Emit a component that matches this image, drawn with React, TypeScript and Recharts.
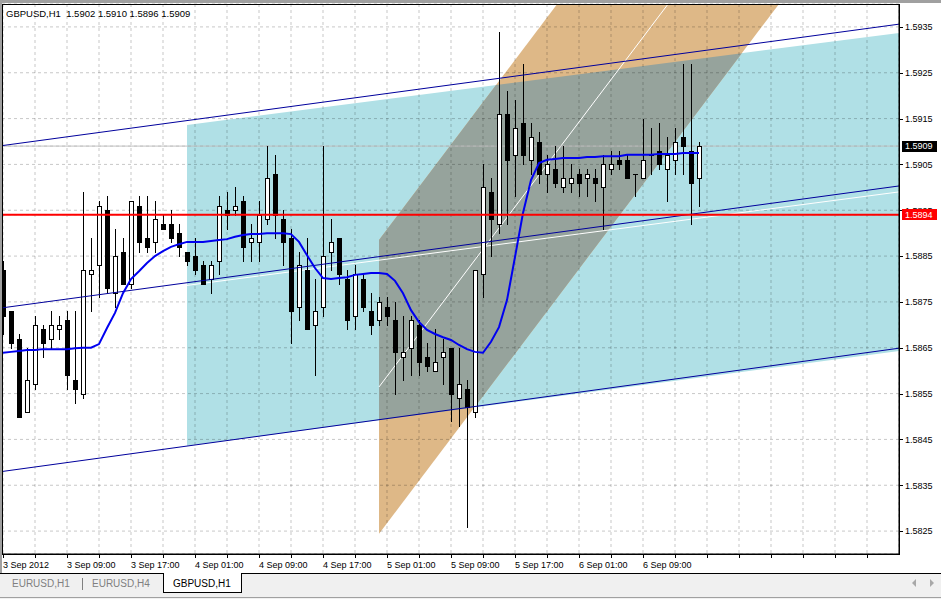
import React from 'react';
import { ComposedChart, Area, Bar, Line, XAxis, YAxis, CartesianGrid, ReferenceLine } from 'recharts';

const symbol = 'GBPUSD,H1';
const FONT = "'Liberation Sans', Arial, sans-serif";

// hourly bars, 3 Sep 2012 01:00 .. 6 Sep 2012 16:00
const opens = [
  1.5882, 1.5873, 1.5867, 1.5851, 1.5857, 1.5869, 1.5867, 1.5869, 1.5871, 1.5858,
  1.5855, 1.5881, 1.5883, 1.5895, 1.5877, 1.5886, 1.5879, 1.5896, 1.5889, 1.5888,
  1.5892, 1.5892, 1.5890, 1.5886, 1.5885, 1.5883, 1.5880, 1.5884, 1.5895, 1.5895,
  1.5897, 1.5888, 1.5888, 1.5893, 1.5903, 1.5893, 1.5889, 1.5874, 1.5882, 1.5870,
  1.5874, 1.5886, 1.5889, 1.5880, 1.5872, 1.5880, 1.5873, 1.5871, 1.5874, 1.5871,
  1.5863, 1.5865, 1.5870, 1.5863, 1.5860, 1.5863, 1.5865, 1.5854, 1.5856, 1.5851,
  1.5881, 1.5899, 1.5892, 1.5916, 1.5907, 1.5914, 1.5906, 1.5910, 1.5903, 1.5904,
  1.5900, 1.5901, 1.5903, 1.5902, 1.5902, 1.5900, 1.5904, 1.5906, 1.5906, 1.5903,
  1.5902, 1.5907, 1.5908, 1.5904, 1.5906, 1.5911, 1.5908, 1.5902,
];
const highs = [
  1.5884, 1.5873, 1.5868, 1.5865, 1.5872, 1.5870, 1.5873, 1.5872, 1.5873, 1.5873,
  1.5899, 1.5889, 1.5897, 1.5898, 1.5891, 1.5889, 1.5897, 1.5898, 1.5898, 1.5897,
  1.5894, 1.5895, 1.5892, 1.5886, 1.5889, 1.5884, 1.5884, 1.5898, 1.5899, 1.5900,
  1.5898, 1.5892, 1.5897, 1.5909, 1.5907, 1.5895, 1.5891, 1.5886, 1.5889, 1.5880,
  1.5909, 1.5893, 1.5889, 1.5882, 1.5883, 1.5881, 1.5877, 1.5876, 1.5876, 1.5875,
  1.5872, 1.5872, 1.5871, 1.5866, 1.5869, 1.5867, 1.5865, 1.5865, 1.5858, 1.5882,
  1.5905, 1.5902, 1.5934, 1.5921, 1.5919, 1.5927, 1.5914, 1.5912, 1.5907, 1.5909,
  1.5909, 1.5905, 1.5904, 1.5904, 1.5904, 1.5907, 1.5908, 1.5908, 1.5907, 1.5903,
  1.5915, 1.5913, 1.5914, 1.5911, 1.5913, 1.5927, 1.5927, 1.5910,
];
const lows = [
  1.5868, 1.5865, 1.5850, 1.5851, 1.5856, 1.5863, 1.5865, 1.5867, 1.5856, 1.5853,
  1.5854, 1.5873, 1.5876, 1.5877, 1.5874, 1.5879, 1.5878, 1.5886, 1.5886, 1.5886,
  1.5891, 1.5888, 1.5885, 1.5883, 1.5881, 1.5879, 1.5877, 1.5881, 1.5891, 1.5894,
  1.5884, 1.5884, 1.5884, 1.5892, 1.5889, 1.5883, 1.5866, 1.5871, 1.5869, 1.5859,
  1.5872, 1.5882, 1.5879, 1.5869, 1.5869, 1.5873, 1.5868, 1.5870, 1.5870, 1.5855,
  1.5858, 1.5859, 1.5859, 1.5860, 1.5860, 1.5857, 1.5849, 1.5848, 1.5826, 1.5850,
  1.5876, 1.5885, 1.5890, 1.5892, 1.5898, 1.5905, 1.5903, 1.5901, 1.5899, 1.5900,
  1.5899, 1.5899, 1.5898, 1.5898, 1.5897, 1.5891, 1.5903, 1.5904, 1.5902, 1.5898,
  1.5902, 1.5903, 1.5904, 1.5897, 1.5903, 1.5903, 1.5892, 1.5896,
];
const closes = [
  1.5872, 1.5866, 1.5850, 1.5858, 1.5870, 1.5866, 1.5870, 1.5870, 1.5859, 1.5856,
  1.5882, 1.5882, 1.5896, 1.5878, 1.5885, 1.5879, 1.5897, 1.5888, 1.5887, 1.5893,
  1.5891, 1.5889, 1.5887, 1.5884, 1.5882, 1.5879, 1.5883, 1.5896, 1.5894, 1.5896,
  1.5887, 1.5889, 1.5894, 1.5902, 1.5894, 1.5888, 1.5873, 1.5883, 1.5869, 1.5873,
  1.5885, 1.5888, 1.5881, 1.5871, 1.5881, 1.5874, 1.5870, 1.5875, 1.5872, 1.5864,
  1.5864, 1.5871, 1.5862, 1.5861, 1.5862, 1.5864, 1.5855, 1.5857, 1.5852, 1.5882,
  1.5900, 1.5893, 1.5916, 1.5906, 1.5913, 1.5907, 1.5911, 1.5903, 1.5905, 1.5901,
  1.5902, 1.5902, 1.5901, 1.5903, 1.5901, 1.5905, 1.5905, 1.5905, 1.5902, 1.5903,
  1.5906, 1.5907, 1.5905, 1.5907, 1.5910, 1.5909, 1.5901, 1.5909,
];
const maValues = [
  1.58639, 1.58641, 1.58643, 1.58645, 1.58645, 1.58647, 1.58647, 1.58647, 1.58647, 1.58649,
  1.5865, 1.5865, 1.58658, 1.58693, 1.58726, 1.58769, 1.588, 1.58817, 1.58835, 1.5885,
  1.58861, 1.5887, 1.58876, 1.58881, 1.58881, 1.58881, 1.58883, 1.58885, 1.58887, 1.58892,
  1.58896, 1.58898, 1.58898, 1.589, 1.589, 1.589, 1.58898, 1.58881, 1.58852, 1.58824,
  1.58802, 1.588, 1.58802, 1.58804, 1.58809, 1.58811, 1.58813, 1.58813, 1.58811, 1.58796,
  1.58769, 1.58732, 1.58706, 1.58689, 1.5868, 1.58673, 1.58667, 1.58656, 1.58647, 1.58641,
  1.58639, 1.58663, 1.58695, 1.58754, 1.58848, 1.58944, 1.59016, 1.59053, 1.5906, 1.59062,
  1.59064, 1.59064, 1.59064, 1.59066, 1.59066, 1.59068, 1.59068, 1.59068, 1.59071, 1.59071,
  1.59071, 1.59071, 1.59073, 1.59073, 1.59073, 1.59075, 1.59075, 1.59075,
];

const xTickBars = [0, 4, 8, 12, 16, 20, 24, 28, 32, 36, 40, 44, 48, 52, 56, 60, 64, 68, 72, 76, 80, 84, 88, 92, 96, 100, 104, 108];
const xLabelBars = [0, 8, 16, 24, 32, 40, 48, 56, 64, 72, 80];
const xLabelText = ['3 Sep 2012', '3 Sep 09:00', '3 Sep 17:00', '4 Sep 01:00', '4 Sep 09:00', '4 Sep 17:00', '5 Sep 01:00', '5 Sep 09:00', '5 Sep 17:00', '6 Sep 01:00', '6 Sep 09:00'];
const yTicks = [1.5825, 1.5835, 1.5845, 1.5855, 1.5865, 1.5875, 1.5885, 1.5895, 1.5905, 1.5915, 1.5925, 1.5935];
const bidPrice = 1.5909;
const alertLevel = 1.5894;
const tagPrices = [alertLevel, bidPrice];
const tagColors = ['#FF0000', '#000000'];
const tabs = ['EURUSD,H1', 'EURUSD,H4', 'GBPUSD,H1'];
const activeTab = 2;

// drawn objects (bar index, price)
const stdDevStart = { k: -0.125, upper: 1.59091, middle: 1.58737, lower: 1.5838 };
const stdDevEnd = { k: 112, upper: 1.59356, middle: 1.59003, lower: 1.58649 };
const regStart = { k: 23, top: 1.59136, mid: 1.58786, bottom: 1.58436 };
const regEnd = { k: 112, top: 1.59337, mid: 1.5899, bottom: 1.58643 };
const pitchStart = { k: 47, top: 1.58885, mid: 1.585645, bottom: 1.58244 };
const pitchEnd = { k: 97, top: 1.60041, mid: 1.597205, bottom: 1.594 };

const rows = opens.map((o, i) => ({ k: i, o, h: highs[i], l: lows[i], c: closes[i], ma: maValues[i] }));

const seg = (a: any, b: any, key: string) => [{ k: a.k, v: a[key] }, { k: b.k, v: b[key] }];
const band = (a: any, b: any, lo: string, hi: string) => [{ k: a.k, v: [a[lo], a[hi]] }, { k: b.k, v: [b[lo], b[hi]] }];

type Pt = { k: number; v: number };
const lineThrough = (a: Pt, b: Pt) => (k: number) => a.v + ((b.v - a.v) * (k - a.k)) / (b.k - a.k);
const regTopAt = lineThrough({ k: regStart.k, v: regStart.top }, { k: regEnd.k, v: regEnd.top });
const regBotAt = lineThrough({ k: regStart.k, v: regStart.bottom }, { k: regEnd.k, v: regEnd.bottom });
const pitchTopAt = lineThrough({ k: pitchStart.k, v: pitchStart.top }, { k: pitchEnd.k, v: pitchEnd.top });
const pitchBotAt = lineThrough({ k: pitchStart.k, v: pitchStart.bottom }, { k: pitchEnd.k, v: pitchEnd.bottom });
const crossing = (f: (k: number) => number, g: (k: number) => number) => {
  const d0 = f(0) - g(0);
  const d1 = f(1) - g(1);
  return Math.abs(d0 - d1) < 1e-12 ? NaN : d0 / (d0 - d1);
};
const lowerEdges = [regBotAt, pitchBotAt];
const upperEdges = [regTopAt, pitchTopAt];
const allEdges = [...lowerEdges, ...upperEdges];
const kFrom = Math.max(regStart.k, pitchStart.k);
const kTo = Math.min(regEnd.k, pitchEnd.k);
const overlapKs: number[] = [kFrom, kTo];
allEdges.forEach((f, i) =>
  allEdges.forEach((g, j) => {
    if (j > i) {
      const kk = crossing(f, g);
      if (isFinite(kk) && kk > kFrom && kk < kTo) overlapKs.push(kk);
    }
  })
);
overlapKs.sort((a, b) => a - b);
const overlapFill = overlapKs
  .map((k) => ({ k, lo: Math.max(...lowerEdges.map((f) => f(k))), hi: Math.min(...upperEdges.map((f) => f(k))) }))
  .filter((p) => p.hi - p.lo > -1e-9)
  .map((p) => ({ k: p.k, v: [p.lo, Math.max(p.lo, p.hi)] }));

const Candle = (props: any) => {
  const { x, y, width, height, payload } = props;
  if (!payload || typeof x !== 'number' || !(height > 0)) return null;
  const { o, h, l, c } = payload;
  const span = h - l;
  const py = (v: number) => y + ((h - v) / span) * height;
  const cx = Math.floor(x + width / 2 + 0.5 + 1e-6);
  const yH = Math.round(py(h));
  const yL = Math.round(py(l));
  const yO = Math.round(py(o));
  const yC = Math.round(py(c));
  const top = Math.min(yO, yC);
  const bot = Math.max(yO, yC);
  const bull = c > o;
  return (
    <g>
      <rect x={cx} y={yH} width={1} height={Math.max(1, yL - yH + 1)} fill="#000" />
      <rect x={cx - 2} y={top} width={5} height={bot - top + 1} fill="#000" />
      {bull && bot - top >= 2 && <rect x={cx - 1} y={top + 1} width={3} height={bot - top - 1} fill="#fff" />}
    </g>
  );
};

const XTick = (props: any) => {
  const { x, y, payload } = props;
  const idx = xLabelBars.indexOf(payload.value);
  const px = Math.round(x) + 0.5;
  return (
    <g>
      <line x1={px} x2={px} y1={y + 1} y2={y + 4} stroke="#000" />
      {idx >= 0 && (
        <text x={Math.round(x)} y={y + 14} fontSize={9} fontFamily={FONT} fill="#000" textAnchor="start">
          {xLabelText[idx]}
        </text>
      )}
    </g>
  );
};

// price-axis tick: ordinary ticks get a mark and a label; the current-price
// and alert levels (listed last, so painted on top) get a coloured tag.
const YTick = (props: any) => {
  const { x, y, payload } = props;
  const value = Number(payload.value);
  const tagIdx = tagPrices.indexOf(value);
  if (tagIdx >= 0) {
    const top = Math.round(y - 5.5);
    return (
      <g>
        <rect x={x + 3} y={top} width={35} height={11} fill={tagColors[tagIdx]} />
        <text x={x + 6} y={y} dy={3.3} fill="#fff" fontSize={9} fontFamily={FONT} textAnchor="start">
          {value.toFixed(4)}
        </text>
      </g>
    );
  }
  const py = Math.round(y) + 0.5;
  return (
    <g>
      <line x1={x} x2={x + 4} y1={py} y2={py} stroke="#000" />
      <text x={x + 6} y={y} dy={3.3} fontSize={9} fontFamily={FONT} fill="#000" textAnchor="start">
        {value.toFixed(4)}
      </text>
    </g>
  );
};

const last = rows[rows.length - 1];
const titleText = `${symbol}  ${last.o.toFixed(4)} ${last.h.toFixed(4)} ${last.l.toFixed(4)} ${last.c.toFixed(4)}`;

export default function App() {
  return (
    <div style={{ position: 'absolute', left: 0, top: 0, width: 941, height: 599, background: '#fff', overflow: 'hidden', fontFamily: FONT }}>
      <div style={{ position: 'absolute', left: 0, top: 0 }}>
        <ComposedChart width={941} height={573} data={rows} margin={{ top: 4, right: 0, bottom: 0, left: 2 }}>
          <XAxis
            dataKey="k"
            type="number"
            domain={[-0.125, 112]}
            allowDataOverflow
            ticks={xTickBars}
            interval={0}
            height={19}
            tick={<XTick />}
            tickLine={false}
            tickSize={0}
            tickMargin={0}
            axisLine={{ stroke: '#000' }}
          />
          <XAxis xAxisId="c" dataKey="k" type="number" domain={[-0.125, 112]} allowDataOverflow hide />
          <YAxis
            orientation="right"
            type="number"
            domain={[1.582, 1.594]}
            allowDataOverflow
            ticks={[...yTicks, ...tagPrices]}
            interval={0}
            width={42}
            tick={<YTick />}
            tickLine={false}
            tickSize={0}
            tickMargin={0}
            axisLine={{ stroke: '#000' }}
          />
          <Area data={band(regStart, regEnd, 'bottom', 'top')} dataKey="v" type="linear" fill="#B0E0E6" fillOpacity={1} stroke="none" isAnimationActive={false} zIndex={100} />
          <Area data={band(pitchStart, pitchEnd, 'bottom', 'top')} dataKey="v" type="linear" fill="#DEB887" fillOpacity={1} stroke="none" isAnimationActive={false} zIndex={101} />
          <Area data={overlapFill} dataKey="v" type="linear" fill="#96A39C" fillOpacity={1} stroke="none" isAnimationActive={false} zIndex={102} />
          <CartesianGrid stroke="rgba(0,0,0,0.22)" strokeDasharray="3 3" zIndex={150} />
          <Line data={seg(regStart, regEnd, 'mid')} dataKey="v" type="linear" stroke="#ffffff" strokeWidth={1} dot={false} activeDot={false} isAnimationActive={false} zIndex={160} />
          <Line data={seg(pitchStart, pitchEnd, 'mid')} dataKey="v" type="linear" stroke="#ffffff" strokeWidth={1} dot={false} activeDot={false} isAnimationActive={false} zIndex={160} />
          <ReferenceLine y={bidPrice} stroke="#C0C0C0" strokeWidth={1} zIndex={170} />
          <Bar xAxisId="c" dataKey={(d: any) => [d.l, d.h]} barSize={5} shape={<Candle />} isAnimationActive={false} zIndex={300} />
          <Line data={seg(stdDevStart, stdDevEnd, 'upper')} dataKey="v" type="linear" stroke="#00009C" strokeWidth={1} dot={false} activeDot={false} isAnimationActive={false} zIndex={400} />
          <Line data={seg(stdDevStart, stdDevEnd, 'middle')} dataKey="v" type="linear" stroke="#00009C" strokeWidth={1} dot={false} activeDot={false} isAnimationActive={false} zIndex={400} />
          <Line data={seg(stdDevStart, stdDevEnd, 'lower')} dataKey="v" type="linear" stroke="#00009C" strokeWidth={1} dot={false} activeDot={false} isAnimationActive={false} zIndex={400} />
          <Line dataKey="ma" type="linear" stroke="#0000F0" strokeWidth={2} dot={false} activeDot={false} isAnimationActive={false} zIndex={450} />
          <ReferenceLine y={alertLevel} stroke="#FF0000" strokeWidth={2} zIndex={460} />
        </ComposedChart>
      </div>
      {/* window frame */}
      <div style={{ position: 'absolute', left: 0, top: 0, width: 941, height: 3, background: '#A0A0A0' }} />
      <div style={{ position: 'absolute', left: 0, top: 0, width: 2, height: 573, background: '#A0A0A0' }} />
      <div style={{ position: 'absolute', left: 2, top: 4, width: 898, height: 551, border: '1px solid #000', boxSizing: 'border-box', pointerEvents: 'none' }} />
      <div style={{ position: 'absolute', left: 6, top: 9, fontSize: 9.5, lineHeight: '10px', whiteSpace: 'pre', color: '#000' }}>{titleText}</div>
      {/* tab bar */}
      <div style={{ position: 'absolute', left: 0, top: 573, width: 941, height: 26, background: '#F0F0F0', borderTop: '1px solid #000', boxSizing: 'border-box' }} />
      <div style={{ position: 'absolute', left: 0, top: 597, width: 941, height: 1, background: '#A0A0A0' }} />
      <div style={{ position: 'absolute', left: 163, top: 573, width: 79, height: 20, background: '#fff', borderLeft: '1px solid #000', borderRight: '1px solid #000', borderBottom: '1px solid #000', boxSizing: 'border-box' }} />
      <div style={{ position: 'absolute', left: 82, top: 578, width: 1, height: 12, background: '#808080' }} />
      {tabs.map((t, i) => (
        <div
          key={t}
          style={{
            position: 'absolute',
            left: [12, 92, 173][i],
            top: 578,
            fontSize: 10,
            lineHeight: '12px',
            whiteSpace: 'pre',
            color: i === activeTab ? '#000' : '#808080',
          }}
        >
          {t}
        </div>
      ))}
      <svg style={{ position: 'absolute', left: 905, top: 575 }} width={36} height={16}>
        <polygon points="11,4 7,8 11,12" fill="#A8A8A8" />
        <polygon points="25,4 29,8 25,12" fill="#A8A8A8" />
      </svg>
    </div>
  );
}
